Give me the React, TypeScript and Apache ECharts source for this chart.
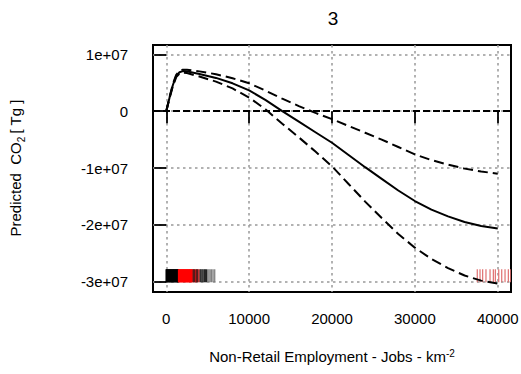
import React, { useEffect, useRef } from "react";
import * as echarts from "echarts";

// Smooth term for non-retail employment density (fit and ±2 SE band)
const jobs = [0, 400, 800, 1200, 1600, 2000, 2500, 3000, 4000, 6000, 8000, 10000, 12000, 14000, 16000, 18000, 20000, 22000, 24000, 26000, 28000, 30000, 32000, 34000, 36000, 38000, 40000];
const fitCO2 = [0, 2.4e6, 4.6e6, 6.2e6, 6.85e6, 7.05e6, 7.0e6, 6.85e6, 6.55e6, 5.85e6, 4.9e6, 3.65e6, 1.95e6, 0.0, -1.85e6, -3.7e6, -5.55e6, -7.7e6, -9.85e6, -11.9e6, -13.95e6, -15.8e6, -17.3e6, -18.5e6, -19.5e6, -20.2e6, -20.65e6];
const upperCO2 = [0, 2.5e6, 4.8e6, 6.4e6, 7.1e6, 7.3e6, 7.3e6, 7.2e6, 7.0e6, 6.5e6, 5.8e6, 4.9e6, 3.6e6, 2.2e6, 0.9e6, -0.3e6, -1.4e6, -2.6e6, -3.8e6, -5.0e6, -6.3e6, -7.6e6, -8.6e6, -9.4e6, -10.1e6, -10.6e6, -11.0e6];
const lowerCO2 = [0, 2.3e6, 4.4e6, 6.0e6, 6.6e6, 6.8e6, 6.7e6, 6.5e6, 6.1e6, 5.2e6, 4.0e6, 2.4e6, 0.3e6, -2.2e6, -4.6e6, -7.1e6, -9.7e6, -12.8e6, -15.9e6, -18.8e6, -21.6e6, -24.0e6, -26.0e6, -27.6e6, -28.9e6, -29.8e6, -30.3e6];

// Axis ticks
const xTicks = [0, 10000, 20000, 30000, 40000];
const yTicks = [-3e7, -2e7, -1e7, 0, 1e7];
const yTickLabels = ["-3e+07", "-2e+07", "-1e+07", "0", "1e+07"];

// Rug of observed values
const rugBlack = [0, 70, 140, 210, 280, 350, 420, 490, 560, 630, 700, 770, 840, 910, 980, 1050, 1120, 1190, 1260, 1330, 1400, 1450];
const rugRed = [1500, 1580, 1660, 1740, 1820, 1900, 1980, 2060, 2140, 2220, 2300, 2380, 2460, 2540, 2620, 2700, 2780, 2860, 2940, 3020, 3100];
const rugDarkRed = [3200, 3280, 3420, 3560, 3650, 3800, 3950];
const rugDark = [3350, 3720, 4100, 4200, 4330, 4450, 4600, 4720, 4850];
const rugGray = [5000, 5150, 5300, 5480, 5650, 5850];
const rugPink = [37530, 37860, 38180, 38580, 39070, 39470, 39710, 40120, 40480, 40880, 41280, 41570];

const RUG_LOW = -3.01e7;
const RUG_HIGH = -2.78e7;
const FONT = "Liberation Sans, Arial, Helvetica, sans-serif";

function rugSeries(values: number[], color: string, width: number) {
  return {
    type: "custom",
    silent: true,
    clip: true,
    data: values.map((v) => [v, 0]),
    renderItem: (_params: any, api: any) => {
      const x = api.value(0);
      const a = api.coord([x, RUG_LOW]);
      const b = api.coord([x, RUG_HIGH]);
      return {
        type: "line",
        shape: { x1: a[0], y1: a[1], x2: b[0], y2: b[1] },
        style: { stroke: color, lineWidth: width },
      };
    },
  };
}

function curve(values: number[], dashed: boolean, withZeroLine = false) {
  const s: any = {
    type: "line",
    data: jobs.map((x, i) => [x, values[i]]),
    symbol: "none",
    silent: true,
    lineStyle: { color: "#000", width: 2, type: dashed ? [10, 5] : "solid" },
    z: 5,
  };
  if (withZeroLine) {
    s.markLine = {
      silent: true,
      symbol: "none",
      label: { show: false },
      lineStyle: { color: "#000", width: 1.8, type: [7, 3] },
      data: [{ yAxis: 0 }],
    };
  }
  return s;
}

export default function App() {
  const ref = useRef<HTMLDivElement>(null);
  useEffect(() => {
    document.body.style.margin = "0";
    const chart = echarts.init(ref.current!, null, { renderer: "svg" });
    const option: any = {
      animation: false,
      backgroundColor: "#fff",
      textStyle: { fontFamily: FONT },
      grid: {
        left: 153,
        right: 10,
        top: 45,
        bottom: 82,
        show: true,
        borderColor: "#000",
        borderWidth: 2,
        outerBoundsMode: "none",
      },
      xAxis: {
        type: "value",
        min: -1600,
        max: 41600,
        axisLine: { show: false },
        axisTick: { show: true, length: 12, lineStyle: { color: "#000", width: 1.8 }, customValues: xTicks },
        axisLabel: { customValues: xTicks, margin: 19, fontSize: 15, color: "#000", fontFamily: FONT, formatter: (v: number) => String(v) },
        splitLine: { show: true, lineStyle: { color: "#999", width: 1.5, type: [2.5, 3.5] } },
      },
      yAxis: {
        type: "value",
        min: -3.18e7,
        max: 1.164e7,
        axisLine: { show: false },
        axisTick: { show: true, length: 12, lineStyle: { color: "#000", width: 1.8 }, customValues: yTicks },
        axisLabel: {
          customValues: yTicks,
          margin: 25,
          fontSize: 15,
          color: "#000",
          fontFamily: FONT,
          formatter: (v: number) => {
            const i = yTicks.indexOf(v);
            return i >= 0 ? yTickLabels[i] : "";
          },
        },
        splitLine: { show: true, lineStyle: { color: "#999", width: 1.5, type: [2.5, 3.5] } },
      },
      graphic: [
        {
          type: "text",
          x: 333,
          y: 18,
          style: { text: "3", fontSize: 19, fontFamily: FONT, fill: "#000", textAlign: "center", textVerticalAlign: "middle" },
        },
        {
          type: "text",
          x: 332,
          y: 356,
          style: {
            text: "{t|Non-Retail Employment - Jobs - km}{p|-2}",
            fontFamily: FONT,
            fill: "#000",
            textAlign: "center",
            textVerticalAlign: "middle",
            rich: {
              t: { fontSize: 15, fontFamily: FONT, fill: "#000", verticalAlign: "bottom" },
              p: { fontSize: 10, fontFamily: FONT, fill: "#000", verticalAlign: "top" },
            },
          },
        },
        {
          type: "text",
          x: 17,
          y: 168,
          rotation: Math.PI / 2,
          style: {
            text: "{t|Predicted  CO}{s|2}{t|[ Tg ]}",
            fontFamily: FONT,
            fill: "#000",
            textAlign: "center",
            textVerticalAlign: "middle",
            rich: {
              t: { fontSize: 15, fontFamily: FONT, fill: "#000", verticalAlign: "bottom", padding: [0, 0, 4, 0] },
              s: { fontSize: 10, fontFamily: FONT, fill: "#000", verticalAlign: "bottom", padding: [0, 3, 0, 0] },
            },
          },
        },
      ],
      series: [
        rugSeries(rugBlack, "#000", 1.6),
        rugSeries(rugRed, "#ff0000", 1.6),
        rugSeries(rugDarkRed, "#b01010", 1.4),
        rugSeries(rugDark, "#222", 1.2),
        rugSeries(rugGray, "#777", 1.2),
        rugSeries(rugPink, "#e07070", 1.2),
        curve(fitCO2, false, true),
        curve(upperCO2, true),
        curve(lowerCO2, true),
      ],
    };
    chart.setOption(option);
    return () => chart.dispose();
  }, []);
  return <div ref={ref} style={{ width: 521, height: 374 }} />;
}
